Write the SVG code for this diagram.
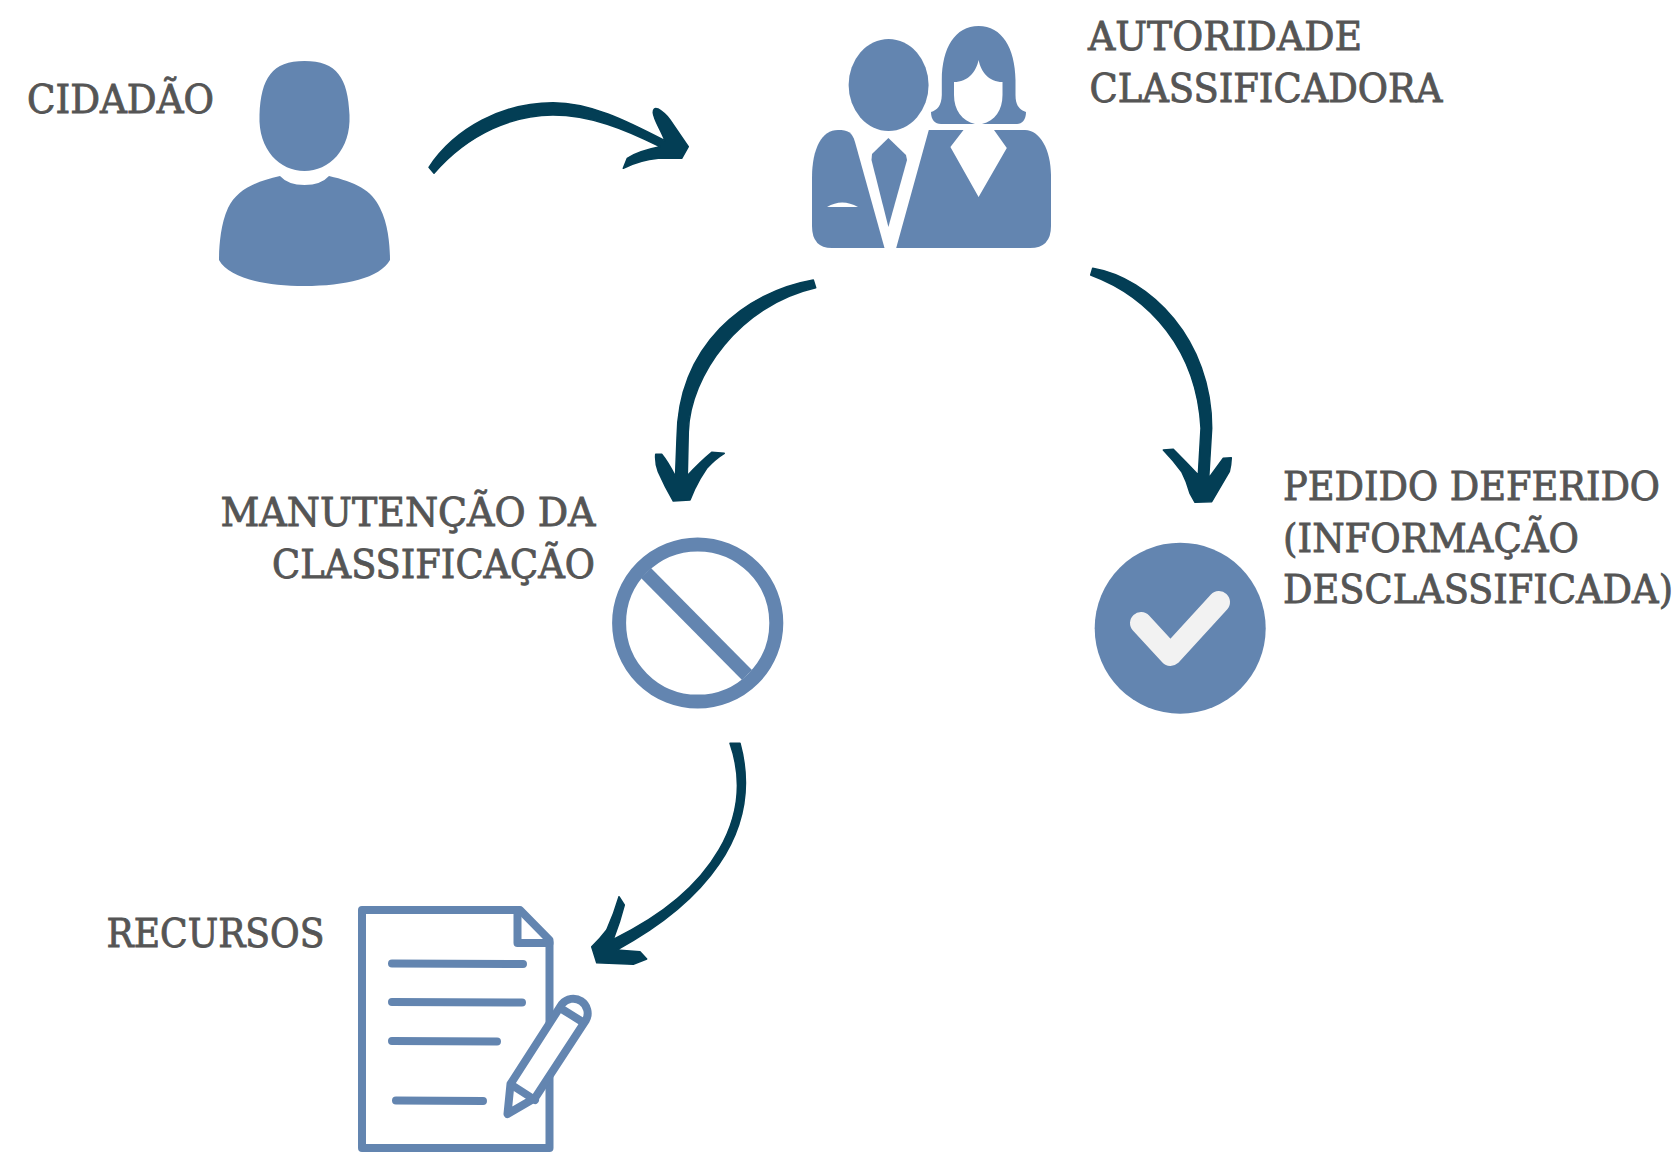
<svg xmlns="http://www.w3.org/2000/svg" width="1679" height="1152" viewBox="0 0 1679 1152">
<style>
.lbl{font-family:"DejaVu Serif Condensed","DejaVu Serif","Liberation Serif",serif;font-size:39px;fill:#555555;stroke:#555555;stroke-width:.8}
.ico{fill:#6385b0}
.cut{fill:#ffffff}
.line{fill:none;stroke:#6385b0;stroke-width:8;stroke-linecap:round;stroke-linejoin:round}
.arrow{fill:#033e55;stroke:#033e55;stroke-width:1.500;stroke-linejoin:round}
</style>
<rect width="1679" height="1152" fill="#ffffff"/>
<g id="cidadao">
<path class="ico" d="M304.500 61C272 61 261 78 259.500 115C258 150 280 171 304.500 171C329 171 351 150 349.500 115C348 78 337 61 304.500 61Z"/>
<path class="ico" d="M280 176Q288 185 304.500 185Q321 185 329 176C355 182 372 190 380 208C389 225 390 250 390 260C380 278 345 286 304.500 286C264 286 229 278 219 260C219 250 220 225 228 208C237 190 254 182 280 176Z"/>
<text class="lbl" x="27" y="112.500" textLength="187" lengthAdjust="spacingAndGlyphs">CIDADÃO</text>
</g>
<g id="autoridade">
<ellipse class="ico" cx="888.600" cy="85" rx="40" ry="46"/>
<path class="ico" d="M978.600 26C955 26 942 48 941.800 80V95C941.500 106 937 110 931 112C931 120 935 124 941 124H1017C1022 124 1026 120 1026 112C1020 110 1015.500 106 1015.500 95V80C1015 48 1002 26 978.600 26Z"/>
<path class="cut" d="M978.600 60C976 72 968 82 954 82V95C954 110 962 121 975 124H982C995 121 1002.500 110 1002.500 95V82C989 82 981 72 978.600 60Z"/>
<path class="ico" d="M812 178C812 148 822 130 838 130C848 130 852 132 855 142L884.500 248H832Q812 248 812 226Z"/>
<path class="cut" d="M827 207Q842 198 858 207Z"/>
<path class="ico" d="M888.400 138L906 155L907 160L888.400 227L871.500 160L872 154Z"/>
<path class="ico" d="M928.800 130H963.500L950.400 147L978.600 197L1006.800 148L994 130H1025C1040 130 1051 150 1051 175V226Q1051 248 1030 248H896.200Z"/>
<text class="lbl" x="1088" y="50" textLength="274" lengthAdjust="spacingAndGlyphs">AUTORIDADE</text>
<text class="lbl" x="1089.500" y="101.700" textLength="353" lengthAdjust="spacingAndGlyphs">CLASSIFICADORA</text>
</g>
<g id="manutencao">
<circle cx="697.700" cy="623" r="78.600" fill="none" stroke="#6385b0" stroke-width="14"/>
<line x1="646" y1="573" x2="747" y2="675" stroke="#6385b0" stroke-width="14"/>
<text class="lbl" x="220.500" y="525.700" textLength="375" lengthAdjust="spacingAndGlyphs">MANUTENÇÃO DA</text>
<text class="lbl" x="272" y="577.700" textLength="323" lengthAdjust="spacingAndGlyphs">CLASSIFICAÇÃO</text>
</g>
<g id="deferido">
<circle class="ico" cx="1180.200" cy="628.200" r="85.500"/>
<path d="M1141 623L1170.500 655L1219 602" fill="none" stroke="#f2f2f2" stroke-width="22" stroke-linecap="round" stroke-linejoin="round"/>
<text class="lbl" x="1283" y="500" textLength="377" lengthAdjust="spacingAndGlyphs">PEDIDO DEFERIDO</text>
<text class="lbl" x="1283" y="551.700" textLength="296" lengthAdjust="spacingAndGlyphs">(INFORMAÇÃO</text>
<text class="lbl" x="1283" y="603.300" textLength="390" lengthAdjust="spacingAndGlyphs">DESCLASSIFICADA)</text>
</g>
<g id="recursos">
<path class="line" d="M520 910H362V1148H549.500V940Z"/>
<path class="line" d="M517.500 910V943H549.500"/>
<path class="line" d="M392 963.500L523 964M392 1002L522 1002.500M392 1041L497 1041.500M396 1100.500L483 1101"/>
<path class="line" style="fill:#ffffff" d="M507.500 1114L510.500 1084L562 1004A14.500 14.500 0 0 1 586 1020L535 1098Z"/>
<path class="line" d="M563.300 1010L581 1021M511.700 1085L535 1100"/>
<text class="lbl" x="106.500" y="947" textLength="218" lengthAdjust="spacingAndGlyphs">RECURSOS</text>
</g>
<g id="connectors">
<path class="arrow" d="M429 167.300C455 128 503 102.700 553 102.700C590 102.700 625 120 665 140.700C660 128 654 120 653.300 113Q653 107 658 109Q665 113 670 120L688.300 146.700L681.700 158.300L658.300 158.300Q640 160 623.300 168.300L627.300 158.300Q638 151 660 146.700C625 129 590 115 553 115C515 115 470 132 434 173.300Z"/>
<path class="arrow" d="M813.300 280C745 292 678 345 677 438L675.500 476.700Q668 462 661.700 454.300L655.700 454.300Q655 463 658.300 471.700Q665 487 673.300 501L690 500L695 488.300Q700 478 706.700 468.300Q715 459 724.300 453.300L711.700 452.300Q700 462 687.300 475.700L688.300 431.700C690 375 740 305 815.700 287.700Z"/>
<path class="arrow" d="M1092.700 268.300C1150 278 1212 340 1211.700 428.300L1208.700 478.300L1223.300 458.300L1231.300 457.700Q1231 465 1229.300 471.700L1211.700 501.700L1195 502.300L1190 493.300Q1187 482 1181.700 471.700Q1173 460 1163.300 450L1173.300 449.300Q1186 462 1198.300 475L1201 428.300C1197 350 1150 297 1090.700 275Z"/>
<path class="arrow" d="M730 743.300C755 815 715 890 613.300 939.300Q620 922 624.300 905L619 896.700Q614 914 606.700 930Q600 939 591.700 946.700L596.700 962.700L633.300 964.300L646.700 959L640 951.700L616.700 950C700 905 765 835 740 743.300Z"/>
</g>
</svg>
